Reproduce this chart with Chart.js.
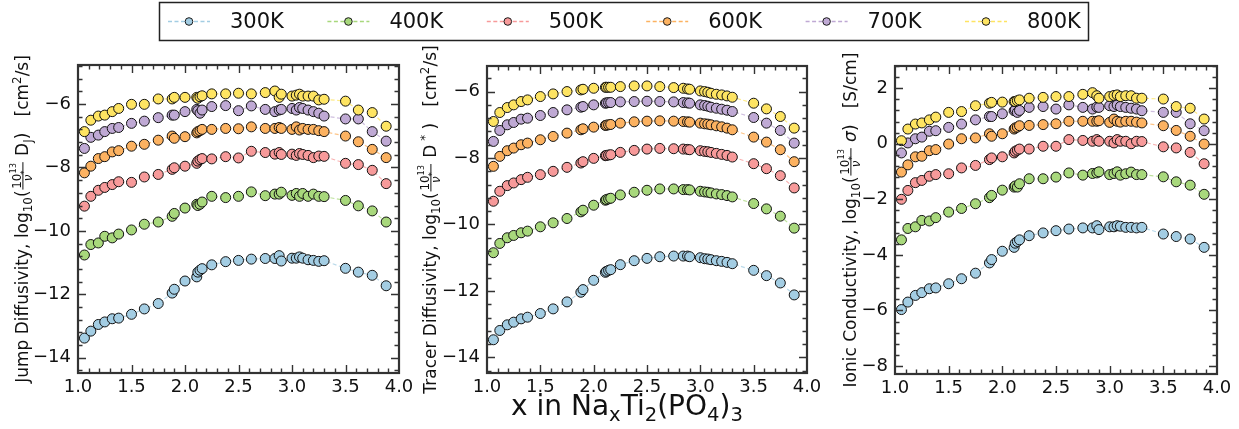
<!DOCTYPE html>
<html>
<head>
<meta charset="utf-8">
<script src="https://cdn.jsdelivr.net/npm/chart.js@4.4.1/dist/chart.umd.min.js"></script>
<style>
  html, body { margin: 0; padding: 0; background: #fff; }
  #wrap { position: relative; width: 1239px; height: 429px; }
  #wrap canvas { position: absolute; left: 0; top: 0; }
</style>
</head>
<body>
<div id="wrap">
  <canvas id="jumpChart" width="1239" height="429"></canvas>
  <canvas id="tracerChart" width="1239" height="429"></canvas>
  <canvas id="condChart" width="1239" height="429"></canvas>
</div>
<script>
var temperatures = ['300K', '400K', '500K', '600K', '700K', '800K'];
var xValues = [1.06, 1.12, 1.19, 1.25, 1.32, 1.38, 1.5, 1.62, 1.75, 1.88, 1.9, 2.0, 2.11, 2.12, 2.14, 2.16, 2.25, 2.38,
               2.5, 2.62, 2.75, 2.84, 2.88, 2.9, 3.0, 3.04, 3.07, 3.1, 3.15, 3.2, 3.25, 3.3, 3.5, 3.62, 3.75, 3.88];

// jump diffusivity
var jump300 = [-13.38, -13.16, -12.95, -12.87, -12.77, -12.75, -12.63, -12.46, -12.29, -11.96, -11.84, -11.58, -11.45, -11.30, -11.24, -11.19, -11.07, -10.97,
               -10.93, -10.89, -10.87, -10.87, -10.78, -10.95, -10.86, -10.86, -10.82, -10.86, -10.91, -10.93, -10.96, -10.94, -11.18, -11.30, -11.40, -11.73];
var jump400 = [-10.76, -10.43, -10.38, -10.17, -10.22, -10.10, -9.97, -9.79, -9.72, -9.54, -9.45, -9.28, -9.16, -9.20, -9.16, -9.09, -8.91, -8.95,
               -8.91, -8.77, -8.89, -8.84, -8.84, -8.78, -8.88, -8.82, -8.91, -8.82, -8.91, -8.84, -8.91, -8.92, -9.04, -9.21, -9.37, -9.72];
var jump500 = [-9.22, -8.91, -8.72, -8.63, -8.54, -8.45, -8.47, -8.30, -8.22, -8.06, -8.01, -7.96, -7.87, -7.80, -7.75, -7.72, -7.73, -7.66,
               -7.70, -7.49, -7.53, -7.58, -7.53, -7.59, -7.58, -7.62, -7.56, -7.59, -7.62, -7.69, -7.64, -7.65, -7.87, -7.91, -8.09, -8.51];
var jump600 = [-8.17, -7.96, -7.72, -7.66, -7.51, -7.47, -7.33, -7.27, -7.14, -7.01, -7.08, -7.03, -6.91, -6.87, -6.84, -6.80, -6.80, -6.77,
               -6.78, -6.72, -6.77, -6.77, -6.74, -6.77, -6.80, -6.72, -6.82, -6.77, -6.80, -6.80, -6.84, -6.87, -7.01, -7.19, -7.43, -7.69];
var jump700 = [-7.40, -7.05, -6.98, -6.87, -6.77, -6.74, -6.61, -6.54, -6.43, -6.35, -6.35, -6.24, -6.17, -6.21, -6.29, -6.19, -6.08, -6.05,
               -6.21, -6.06, -6.17, -6.24, -6.19, -6.17, -6.14, -6.19, -6.11, -6.14, -6.19, -6.24, -6.29, -6.38, -6.47, -6.47, -6.87, -7.17];
var jump800 = [-6.87, -6.51, -6.38, -6.35, -6.24, -6.14, -6.01, -6.01, -5.84, -5.84, -5.79, -5.79, -5.79, -5.82, -5.77, -5.74, -5.68, -5.68,
               -5.66, -5.68, -5.64, -5.59, -5.79, -5.69, -5.75, -5.72, -5.69, -5.75, -5.75, -5.75, -5.87, -5.85, -5.91, -6.19, -6.27, -6.70];

// tracer diffusivity
var tracer300 = [-13.47, -13.19, -13.02, -12.94, -12.84, -12.79, -12.68, -12.54, -12.33, -12.04, -11.96, -11.68, -11.44, -11.41, -11.38, -11.36, -11.21, -11.09,
                 -11.02, -10.97, -10.95, -10.95, -10.95, -10.97, -11.00, -11.03, -11.04, -11.06, -11.09, -11.11, -11.14, -11.18, -11.38, -11.54, -11.76, -12.12];
var tracer400 = [-10.85, -10.57, -10.40, -10.33, -10.25, -10.20, -10.07, -9.95, -9.82, -9.62, -9.57, -9.42, -9.27, -9.25, -9.23, -9.21, -9.11, -9.03,
                 -8.97, -8.93, -8.93, -8.95, -8.95, -8.96, -9.00, -9.02, -9.03, -9.05, -9.08, -9.10, -9.13, -9.17, -9.37, -9.53, -9.75, -10.11];
var tracer500 = [-9.30, -9.00, -8.83, -8.75, -8.65, -8.58, -8.50, -8.40, -8.28, -8.15, -8.11, -8.01, -7.93, -7.92, -7.91, -7.90, -7.83, -7.77,
                 -7.73, -7.71, -7.72, -7.73, -7.74, -7.75, -7.78, -7.80, -7.81, -7.83, -7.86, -7.89, -7.92, -7.97, -8.17, -8.32, -8.53, -8.90];
var tracer600 = [-8.25, -7.95, -7.78, -7.70, -7.60, -7.55, -7.45, -7.35, -7.25, -7.15, -7.12, -7.07, -7.02, -7.01, -7.00, -6.99, -6.95, -6.91,
                 -6.89, -6.88, -6.89, -6.90, -6.91, -6.92, -6.95, -6.97, -6.98, -7.00, -7.03, -7.06, -7.10, -7.15, -7.37, -7.52, -7.75, -8.11];
var tracer700 = [-7.50, -7.17, -7.00, -6.93, -6.83, -6.80, -6.72, -6.63, -6.55, -6.47, -6.45, -6.40, -6.35, -6.34, -6.33, -6.33, -6.31, -6.30,
                 -6.29, -6.30, -6.31, -6.33, -6.34, -6.35, -6.40, -6.42, -6.44, -6.47, -6.50, -6.53, -6.56, -6.60, -6.78, -6.95, -7.17, -7.55];
var tracer800 = [-6.90, -6.63, -6.48, -6.40, -6.30, -6.25, -6.15, -6.07, -6.00, -5.95, -5.93, -5.90, -5.87, -5.87, -5.87, -5.87, -5.85, -5.83,
                 -5.83, -5.85, -5.88, -5.90, -5.92, -5.93, -5.98, -6.00, -6.02, -6.05, -6.08, -6.10, -6.13, -6.17, -6.35, -6.52, -6.75, -7.10];

// ionic conductivity
var cond300 = [-5.97, -5.70, -5.46, -5.36, -5.22, -5.19, -5.04, -4.86, -4.66, -4.29, -4.17, -3.87, -3.73, -3.58, -3.52, -3.46, -3.31, -3.21,
               -3.13, -3.07, -3.03, -3.03, -2.95, -3.09, -2.99, -2.99, -2.95, -2.97, -3.01, -3.01, -3.03, -3.01, -3.25, -3.34, -3.43, -3.73];
var cond400 = [-3.46, -3.05, -2.99, -2.76, -2.78, -2.66, -2.46, -2.33, -2.16, -1.94, -1.86, -1.67, -1.56, -1.52, -1.56, -1.44, -1.26, -1.26,
               -1.20, -1.05, -1.13, -1.07, -1.05, -1.01, -1.11, -1.07, -1.01, -1.13, -1.08, -1.02, -1.11, -1.11, -1.19, -1.37, -1.49, -1.82];
var cond500 = [-2.00, -1.68, -1.40, -1.32, -1.17, -1.11, -1.08, -0.87, -0.78, -0.57, -0.51, -0.47, -0.33, -0.27, -0.23, -0.19, -0.19, -0.09,
               -0.09, 0.15, 0.12, 0.09, 0.15, 0.09, 0.09, 0.03, 0.15, 0.09, 0.09, 0.00, 0.09, 0.08, -0.11, -0.15, -0.31, -0.72];
var cond600 = [-1.02, -0.76, -0.47, -0.45, -0.25, -0.21, -0.01, 0.18, 0.21, 0.36, 0.27, 0.36, 0.53, 0.57, 0.60, 0.65, 0.66, 0.69,
               0.72, 0.81, 0.81, 0.81, 0.81, 0.83, 0.77, 0.89, 0.81, 0.78, 0.81, 0.81, 0.78, 0.75, 0.65, 0.48, 0.27, -0.01];
var cond700 = [-0.33, 0.03, 0.18, 0.24, 0.45, 0.47, 0.59, 0.71, 0.86, 0.98, 0.98, 1.08, 1.19, 1.22, 1.13, 1.20, 1.31, 1.34,
               1.25, 1.40, 1.31, 1.25, 1.32, 1.31, 1.37, 1.34, 1.40, 1.34, 1.31, 1.28, 1.25, 1.19, 1.13, 1.13, 0.72, 0.47];
var cond800 = [0.11, 0.53, 0.71, 0.75, 0.86, 0.96, 1.13, 1.16, 1.37, 1.46, 1.49, 1.50, 1.52, 1.52, 1.55, 1.58, 1.64, 1.67,
               1.70, 1.70, 1.78, 1.84, 1.73, 1.64, 1.70, 1.74, 1.76, 1.70, 1.73, 1.73, 1.64, 1.64, 1.61, 1.34, 1.28, 0.89];

var xTicks = [1.0, 1.5, 2.0, 2.5, 3.0, 3.5, 4.0];
var diffTicks = [-14, -12, -10, -8, -6];
var condTicks = [-8, -6, -4, -2, 0, 2];

var colors = ['#a3cde3', '#a8d87c', '#f79a9a', '#fcb261', '#bfa9d4', '#fee462'];
var FONT = '"DejaVu Sans", sans-serif';
var W = 1239, H = 429;

function fade(hex, a) {
    var n = parseInt(hex.slice(1), 16);
    return 'rgba(' + (n >> 16) + ',' + ((n >> 8) & 255) + ',' + (n & 255) + ',' + a + ')';
}

function points(ys) {
    return xValues.map(function (x, i) { return { x: x, y: ys[i] }; });
}

// small mathtext-like renderer: n = normal, i = italic, sub/sup, frac
function setFont(ctx, size, italic) {
    ctx.font = (italic ? 'italic ' : '') + size + 'px ' + FONT;
}
function rich(ctx, parts, x, y, F, draw) {
    var cx = x;
    parts.forEach(function (p) {
        var kind = p[0];
        if (kind === 'n' || kind === 'i') {
            setFont(ctx, F, kind === 'i');
            if (draw) ctx.fillText(p[1], cx, y);
            cx += ctx.measureText(p[1]).width;
        } else if (kind === 'sub' || kind === 'sup') {
            var s = F * 0.7;
            setFont(ctx, s, p[2]);
            var dy = kind === 'sub' ? F * 0.22 : -F * 0.4;
            if (draw) ctx.fillText(p[1], cx, y + dy);
            cx += ctx.measureText(p[1]).width;
        } else if (kind === 'frac') {
            var s2 = F * 0.7;
            var wn = rich(ctx, p[1], 0, 0, s2, false);
            var wd = rich(ctx, p[2], 0, 0, s2, false);
            var w = Math.max(wn, wd) + F * 0.2;
            var axis = y - F * 0.3;
            if (draw) {
                rich(ctx, p[1], cx + (w - wn) / 2, axis - F * 0.1, s2, true);
                rich(ctx, p[2], cx + (w - wd) / 2, axis + F * 0.55, s2, true);
                ctx.fillRect(cx + F * 0.05, axis - 0.5, w - F * 0.1, 1);
            }
            cx += w;
        }
    });
    return cx - x;
}

var fracPart = ['frac', [['n', '10'], ['sup', '13']], [['i', 'ν'], ['sup', '*']]];

function fmtY(v) {
    return v < 0 ? '\u2212' + Math.abs(v) : String(v);
}

function frameTicks(chart) {
    var a = chart.chartArea, ctx = chart.ctx, xs = chart.scales.x, ys = chart.scales.y;
    ctx.save();
    ctx.strokeStyle = '#333';
    ctx.lineWidth = 1.4;
    ctx.beginPath();
    for (var k = 11; k < 40; k++) {
        var px = Math.round(xs.getPixelForValue(k / 10)) + 0.5;
        var len = (k % 5 === 0) ? 8 : 4.5;
        ctx.moveTo(px, a.bottom); ctx.lineTo(px, a.bottom - len);
        ctx.moveTo(px, a.top); ctx.lineTo(px, a.top + len);
    }
    var lo = Math.ceil(ys.min / 0.4 - 1e-6), hi = Math.floor(ys.max / 0.4 + 1e-6);
    for (var j = lo; j <= hi; j++) {
        var py = Math.round(ys.getPixelForValue(j * 0.4)) + 0.5;
        var ylen = (j % 5 === 0) ? 8 : 4.5;
        ctx.moveTo(a.left, py); ctx.lineTo(a.left + ylen, py);
        ctx.moveTo(a.right, py); ctx.lineTo(a.right - ylen, py);
    }
    ctx.stroke();
    ctx.lineWidth = 2.2;
    ctx.strokeRect(a.left, a.top, a.right - a.left, a.bottom - a.top);
    ctx.restore();
}

function drawLegend(chart) {
    var ctx = chart.ctx;
    ctx.save();
    ctx.strokeStyle = '#222';
    ctx.lineWidth = 1.5;
    ctx.strokeRect(159.5, 2.5, 929, 38);
    chart.data.datasets.forEach(function (ds, i) {
        var x0 = 168 + i * 159.4, yc = 21.5;
        ctx.setLineDash([4, 2.5]);
        ctx.strokeStyle = colors[i];
        ctx.lineWidth = 1.3;
        ctx.beginPath(); ctx.moveTo(x0, yc); ctx.lineTo(x0 + 42, yc); ctx.stroke();
        ctx.setLineDash([]);
        ctx.beginPath(); ctx.arc(x0 + 21, yc, 3.8, 0, Math.PI * 2);
        ctx.fillStyle = ds.pointBackgroundColor; ctx.fill();
        ctx.strokeStyle = '#1a1a1a'; ctx.lineWidth = 1; ctx.stroke();
        ctx.fillStyle = '#111';
        ctx.font = '21px ' + FONT;
        ctx.textBaseline = 'middle';
        ctx.fillText(ds.label, x0 + 62, yc + 1);
    });
    ctx.restore();
}

function drawXTitle(chart) {
    var ctx = chart.ctx, F = 28;
    var parts = [['n', 'x in Na'], ['sub', 'x'], ['n', 'Ti'], ['sub', '2'], ['n', '(PO'], ['sub', '4'], ['n', ')'], ['sub', '3']];
    ctx.save();
    ctx.fillStyle = '#111';
    ctx.textBaseline = 'alphabetic';
    var w = rich(ctx, parts, 0, 0, F, false);
    rich(ctx, parts, 627 - w / 2, 415, F, true);
    ctx.restore();
}

function buildChart(id, series, cfg) {
    var yw = 45, xh = 28;
    var datasets = series.map(function (ys, i) {
        return {
            label: temperatures[i],
            data: points(ys),
            showLine: true,
            borderColor: fade(colors[i], 0.75),
            borderWidth: 1.2,
            borderDash: [4, 2.5],
            backgroundColor: colors[i],
            pointBackgroundColor: colors[i],
            pointBorderColor: '#111',
            pointBorderWidth: 1,
            pointRadius: 5,
            order: 10 - i
        };
    });
    var extras = {
        id: 'extras' + id,
        afterDatasetsDraw: function (chart) { frameTicks(chart); },
        afterDraw: function (chart) {
            var ctx = chart.ctx, a = chart.chartArea, F = 17;
            ctx.save();
            ctx.fillStyle = '#111';
            ctx.textBaseline = 'alphabetic';
            ctx.translate(cfg.titleX, (a.top + a.bottom) / 2);
            ctx.rotate(-Math.PI / 2);
            var w = rich(ctx, cfg.title, 0, 0, F, false);
            rich(ctx, cfg.title, -w / 2, 0, F, true);
            ctx.restore();
            if (cfg.legend) drawLegend(chart);
            if (cfg.xTitle) drawXTitle(chart);
        }
    };
    return new Chart(document.getElementById(id), {
        type: 'scatter',
        data: { datasets: datasets },
        options: {
            responsive: false,
            animation: false,
            devicePixelRatio: 1,
            layout: { padding: { left: cfg.L - yw, right: W - cfg.R, top: cfg.T, bottom: H - cfg.B - xh } },
            plugins: { legend: { display: false }, tooltip: { enabled: false } },
            scales: {
                x: {
                    type: 'linear', min: 1, max: 4,
                    grid: { display: false, drawTicks: false },
                    border: { display: false },
                    ticks: {
                        color: '#111', padding: 4, maxRotation: 0, autoSkip: false,
                        font: { family: FONT, size: 18 },
                        callback: function (v) { return v.toFixed(1); }
                    },
                    afterBuildTicks: function (s) { s.ticks = xTicks.map(function (v) { return { value: v }; }); },
                    afterFit: function (s) { s.height = xh; }
                },
                y: {
                    type: 'linear', min: cfg.yMin, max: cfg.yMax,
                    grid: { display: false, drawTicks: false },
                    border: { display: false },
                    ticks: {
                        color: '#111', padding: 7, autoSkip: false,
                        font: { family: FONT, size: 18 },
                        callback: fmtY
                    },
                    afterBuildTicks: function (s) { s.ticks = cfg.yTicks.map(function (v) { return { value: v }; }); },
                    afterFit: function (s) { s.width = yw; }
                }
            }
        },
        plugins: [extras]
    });
}

buildChart('jumpChart', [jump300, jump400, jump500, jump600, jump700, jump800], {
    L: 78, R: 399, T: 65, B: 373, yMin: -14.48, yMax: -4.77, yTicks: diffTicks, titleX: 28, legend: true,
    title: [['n', 'Jump Diffusivity, log'], ['sub', '10'], ['n', '('], fracPart, ['n', ' D'], ['sub', 'J'], ['n', ')   [cm'], ['sup', '2'], ['n', '/s]']]
});
buildChart('tracerChart', [tracer300, tracer400, tracer500, tracer600, tracer700, tracer800], {
    L: 487, R: 807, T: 66, B: 373, yMin: -14.47, yMax: -5.23, yTicks: diffTicks, titleX: 436, xTitle: true,
    title: [['n', 'Tracer Diffusivity, log'], ['sub', '10'], ['n', '('], fracPart, ['n', ' D'], ['sup', ' *'], ['n', ' )   [cm'], ['sup', '2'], ['n', '/s]']]
});
buildChart('condChart', [cond300, cond400, cond500, cond600, cond700, cond800], {
    L: 895, R: 1217, T: 66, B: 374, yMin: -8.29, yMax: 2.8, yTicks: condTicks, titleX: 856,
    title: [['n', 'Ionic Conductivity, log'], ['sub', '10'], ['n', '('], fracPart, ['n', ' '], ['i', 'σ'], ['n', ')   [S/cm]']]
});
</script>
</body>
</html>
